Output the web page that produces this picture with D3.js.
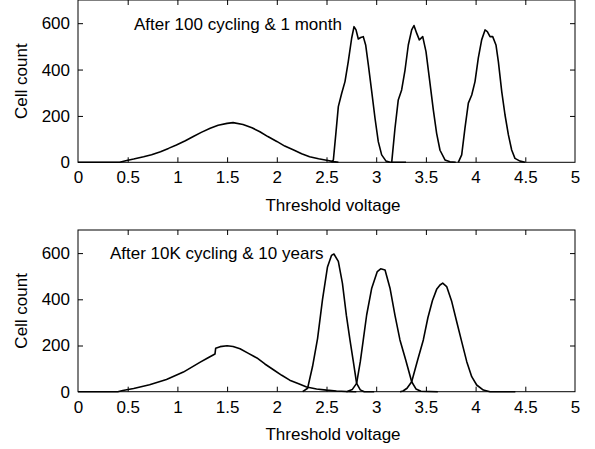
<!DOCTYPE html>
<html>
<head>
<meta charset="utf-8">
<script src="https://cdn.jsdelivr.net/npm/d3@7"></script>
<style>
body { margin: 0; background: #fff; }
svg { display: block; font-family: "Liberation Sans", Arial, Helvetica, sans-serif; }
</style>
</head>
<body>
<svg id="chart" width="595" height="449"></svg>
<script>
// ---- data: [threshold voltage, cell count] ----
var xTicks = [0, 0.5, 1, 1.5, 2, 2.5, 3, 3.5, 4, 4.5, 5];
var yTicks = [0, 200, 400, 600];
var xLabel = "Threshold voltage";
var yLabel = "Cell count";

var topTitle = "After 100 cycling & 1 month";
var topState0 = [[0,0],[0.42,0],[0.49,8],[0.56,14],[0.66,24],[0.74,33],[0.83,46],[0.91,60],[0.99,75],[1.08,93],[1.16,111],[1.24,129],[1.33,147],[1.41,160],[1.50,168],[1.56,171],[1.66,163],[1.75,149],[1.83,132],[1.91,111],[2.00,90],[2.08,70],[2.17,53],[2.25,37],[2.33,24],[2.42,15],[2.50,9],[2.57,3],[2.62,0]];
var topState1 = [[2.55,0],[2.569,10],[2.596,132],[2.619,240],[2.653,298],[2.686,348],[2.719,434],[2.753,535],[2.777,585],[2.797,571],[2.820,532],[2.844,538],[2.870,542],[2.894,506],[2.921,420],[2.955,305],[2.988,190],[3.021,89],[3.055,32],[3.099,5],[3.14,0],[3.30,0]];
var topState2 = [[3.156,0],[3.189,147],[3.222,269],[3.256,312],[3.290,398],[3.323,506],[3.357,571],[3.380,590],[3.407,557],[3.434,528],[3.468,542],[3.501,477],[3.535,362],[3.575,225],[3.608,125],[3.642,52],[3.692,10],[3.742,2],[3.80,0]];
var topState3 = [[3.826,0],[3.860,32],[3.893,147],[3.927,255],[3.961,290],[3.994,348],[4.027,449],[4.061,528],[4.095,571],[4.118,564],[4.145,542],[4.172,542],[4.205,506],[4.229,434],[4.263,305],[4.296,204],[4.330,118],[4.363,53],[4.396,17],[4.447,5],[4.497,0]];

var bottomTitle = "After 10K cycling & 10 years";
var bottomState0 = [[0,0],[0.40,0],[0.45,5],[0.56,14],[0.72,30],[0.89,53],[1.06,85],[1.23,128],[1.30,145],[1.378,163],[1.385,188],[1.43,195],[1.50,199],[1.56,196],[1.63,186],[1.71,167],[1.80,146],[1.88,120],[1.97,94],[2.05,71],[2.13,50],[2.22,34],[2.30,20],[2.40,12],[2.50,7],[2.60,3],[2.70,1],[2.80,0]];
var bottomState1 = [[2.26,0],[2.31,15],[2.36,110],[2.41,230],[2.46,400],[2.51,540],[2.55,590],[2.575,596],[2.619,564],[2.66,470],[2.70,330],[2.736,224],[2.77,130],[2.803,36],[2.84,8],[2.88,0],[2.98,0]];
var bottomState2 = [[2.70,0],[2.76,10],[2.803,36],[2.84,130],[2.87,224],[2.904,332],[2.955,448],[3.011,520],[3.045,532],[3.089,527],[3.139,448],[3.189,330],[3.239,224],[3.297,137],[3.357,43],[3.40,12],[3.45,2],[3.62,0]];
var bottomState3 = [[3.24,0],[3.27,3],[3.31,15],[3.357,43],[3.417,137],[3.474,224],[3.52,320],[3.566,395],[3.61,445],[3.642,462],[3.669,470],[3.709,455],[3.76,390],[3.81,303],[3.86,217],[3.911,130],[3.961,65],[4.011,29],[4.078,7],[4.145,0],[4.40,0]];

// ---- layout ----
var svg = d3.select("#chart");
var left = 78, right = 575;
var fontSize = "17px";

function drawPanel(top, bottom, curves, title, titleX, titleY){
	var x = d3.scaleLinear().domain([0, 5]).range([left, right]);
	var y = d3.scaleLinear().domain([0, 700]).range([bottom, top]);
	var g = svg.append("g");

	// frame
	g.append("rect")
		.attr("x", left).attr("y", top)
		.attr("width", right - left).attr("height", bottom - top)
		.attr("fill", "none").attr("stroke", "#000").attr("stroke-width", 1);

	var xb = g.append("g")
		.attr("transform", "translate(0," + bottom + ")")
		.call(d3.axisBottom(x).tickValues(xTicks).tickSizeInner(-5).tickSizeOuter(0).tickPadding(9).tickFormat(d3.format("")));
	var xt = g.append("g")
		.attr("transform", "translate(0," + top + ")")
		.call(d3.axisTop(x).tickValues(xTicks).tickSizeInner(-5).tickSizeOuter(0).tickFormat(""));
	var yl = g.append("g")
		.attr("transform", "translate(" + left + ",0)")
		.call(d3.axisLeft(y).tickValues(yTicks).tickSizeInner(-5).tickSizeOuter(0).tickPadding(8));
	var yr = g.append("g")
		.attr("transform", "translate(" + right + ",0)")
		.call(d3.axisRight(y).tickValues(yTicks).tickSizeInner(-5).tickSizeOuter(0).tickFormat(""));

	[xb, xt, yl, yr].forEach(function(a){
		a.select(".domain").remove();
		a.selectAll("line").attr("stroke", "#000");
		a.selectAll("text").attr("fill", "#000").style("font-size", fontSize);
		a.attr("font-family", null).attr("font-size", null);
	});
	// ticks on the edges sit on the frame
	xb.selectAll(".tick").filter(function(d){ return d == 0 || d == 5; }).select("line").remove();
	xt.selectAll(".tick").filter(function(d){ return d == 0 || d == 5; }).select("line").remove();
	yl.selectAll(".tick").filter(function(d){ return d == 0; }).select("line").remove();
	yr.selectAll(".tick").filter(function(d){ return d == 0; }).select("line").remove();

	var line = d3.line()
		.x(function(d){ return x(d[0]); })
		.y(function(d){ return y(d[1]); });

	for (var c of curves){
		g.append("path")
			.datum(c)
			.attr("fill", "none")
			.attr("stroke", "#000")
			.attr("stroke-width", 1.6)
			.attr("stroke-linejoin", "round")
			.attr("d", line);
	}

	g.append("text")
		.attr("x", titleX).attr("y", titleY)
		.style("font-size", fontSize)
		.text(title);

	g.append("text")
		.attr("x", 333).attr("y", bottom + 48.5)
		.attr("text-anchor", "middle")
		.style("font-size", fontSize)
		.text(xLabel);

	g.append("text")
		.attr("transform", "translate(27," + (top + bottom) / 2 + ") rotate(-90)")
		.attr("text-anchor", "middle")
		.style("font-size", fontSize)
		.text(yLabel);
}

drawPanel(0, 162.3, [topState0, topState1, topState2, topState3], topTitle, 134, 29.5);
drawPanel(230, 391.7, [bottomState0, bottomState1, bottomState2, bottomState3], bottomTitle, 110, 258.5);
</script>
</body>
</html>
